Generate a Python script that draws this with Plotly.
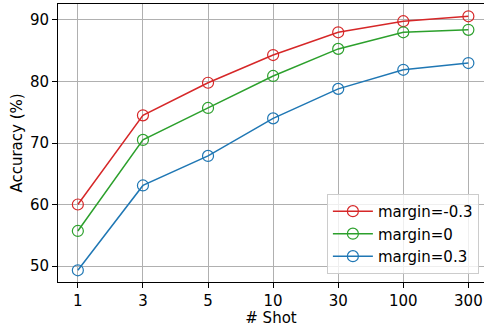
import plotly.graph_objects as go

shots = ["1", "3", "5", "10", "30", "100", "300"]
acc_neg03 = [60.0, 74.5, 79.8, 84.3, 88.0, 89.8, 90.6]
acc_0 = [55.7, 70.5, 75.7, 80.9, 85.3, 88.0, 88.4]
acc_03 = [49.3, 63.1, 67.9, 74.0, 78.8, 81.9, 83.0]
series_names = ["margin=-0.3", "margin=0", "margin=0.3"]
colors = ["#d62728", "#2ca02c", "#1f77b4"]
y_ticks = [50, 60, 70, 80, 90]

fig = go.Figure()
for name, vals, c in zip(series_names, [acc_neg03, acc_0, acc_03], colors):
    fig.add_trace(go.Scatter(
        x=shots, y=vals, name=name, mode="lines+markers",
        line=dict(color=c, width=1.5),
        marker=dict(symbol="circle-open", size=11, color=c, line=dict(width=1.2, color=c)),
    ))

font = dict(family="DejaVu Sans", size=15, color="black")
fig.update_layout(
    width=484, height=327,
    margin=dict(l=58, r=0, t=4, b=45),
    paper_bgcolor="white", plot_bgcolor="white",
    font=font,
    showlegend=True,
    legend=dict(
        x=0.988, y=0.029, xanchor="right", yanchor="bottom",
        bgcolor="rgba(255,255,255,0.8)", bordercolor="#cccccc", borderwidth=1,
        font=dict(family="DejaVu Sans", size=15, color="black"),
        tracegroupgap=0, itemwidth=40,
    ),
)
fig.update_xaxes(
    type="category", range=[-0.305, 6.24],
    showgrid=True, gridcolor="#b0b0b0", gridwidth=0.8,
    showline=True, linecolor="black", linewidth=1, mirror=True,
    ticks="outside", ticklen=5, tickcolor="black",
    title=dict(text="# Shot", standoff=3, font=font),
)
fig.update_yaxes(
    range=[47.4, 92.6], tickvals=y_ticks,
    showgrid=True, gridcolor="#b0b0b0", gridwidth=0.8, zeroline=False,
    showline=True, linecolor="black", linewidth=1,
    ticks="outside", ticklen=5, tickcolor="black",
    title=dict(text="Accuracy (%)", standoff=3, font=font),
)
fig.write_html("out.html")
